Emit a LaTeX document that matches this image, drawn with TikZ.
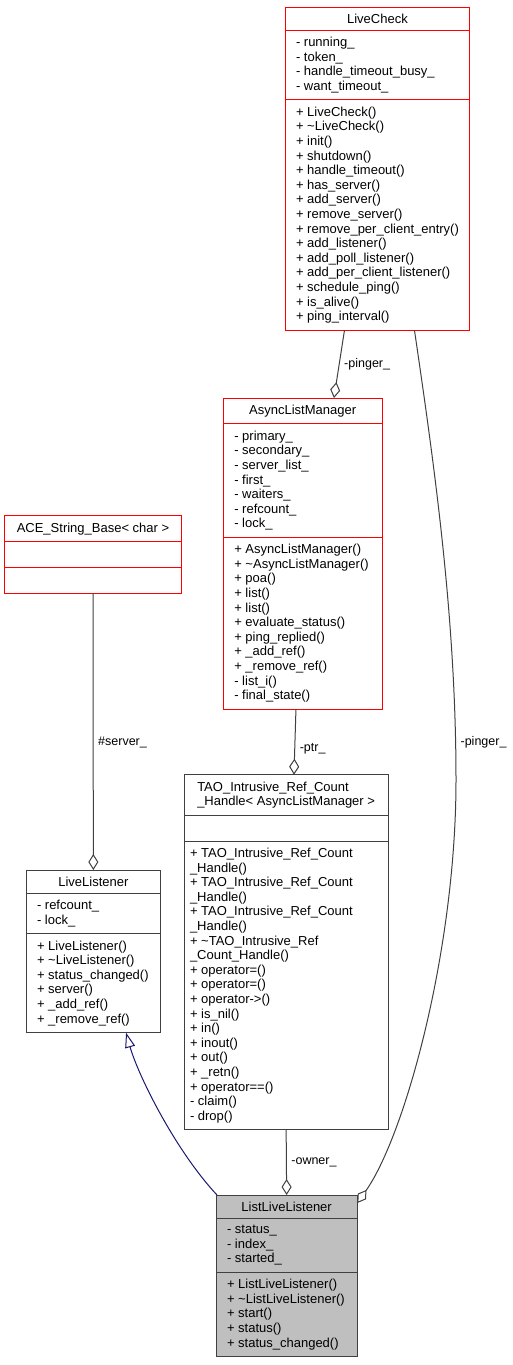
\documentclass[tikz,border=0pt]{standalone}
\usepackage{fontspec}
\setmainfont{Liberation Sans}
\usetikzlibrary{shapes.multipart, arrows.meta, positioning}

\begin{document}
\begin{tikzpicture}[x=1pt, y=-1pt]
    % Colors
    \definecolor{edgegray}{RGB}{64, 64, 64}
    \definecolor{inhblue}{RGB}{25, 25, 112}
    \definecolor{boxgray}{RGB}{191, 191, 191}

    \tikzset{
      classbox/.style={rectangle split, rectangle split parts=3,
        rectangle split part align={center,left,left},
        draw=edgegray, line width=1pt, fill=white, align=left,
        font=\fontsize{13}{14.6}\selectfont,
        inner xsep=11pt, inner ysep=6.4pt, outer sep=0pt, anchor=north west},
      undoc/.style={draw=red},
      assoc/.style={draw=edgegray, line width=1pt, -{Diamond[open, length=16pt, width=10pt]}},
      inherit/.style={draw=inhblue, line width=1pt, -{Triangle[open, length=15pt, width=10pt]}},
      edgelabel/.style={font=\fontsize{12.5}{14}\selectfont, inner sep=4.5pt}
    }

    \useasboundingbox (0,0) rectangle (513,1365);

    % Classes
    \node[classbox, undoc, minimum width=184pt] (livecheck) at (285,7) {LiveCheck
      \nodepart{two} - running\_\\- token\_\\- handle\_timeout\_busy\_\\- want\_timeout\_
      \nodepart{three} + LiveCheck()\\+ \textasciitilde LiveCheck()\\+ init()\\+ shutdown()\\+ handle\_timeout()\\+ has\_server()\\+ add\_server()\\+ remove\_server()\\+ remove\_per\_client\_entry()\\+ add\_listener()\\+ add\_poll\_listener()\\+ add\_per\_client\_listener()\\+ schedule\_ping()\\+ is\_alive()\\+ ping\_interval()};

    \node[classbox, undoc, minimum width=158.7pt] (asynclist) at (223.3,398) {AsyncListManager
      \nodepart{two} - primary\_\\- secondary\_\\- server\_list\_\\- first\_\\- waiters\_\\- refcount\_\\- lock\_
      \nodepart{three} + AsyncListManager()\\+ \textasciitilde AsyncListManager()\\+ poa()\\+ list()\\+ list()\\+ evaluate\_status()\\+ ping\_replied()\\+ \_add\_ref()\\+ \_remove\_ref()\\- list\_i()\\- final\_state()};

    \node[classbox, undoc, minimum width=177.4pt] (stringbase) at (4.3,515.7) {ACE\_String\_Base< char >
      \nodepart{two} \vphantom{(}
      \nodepart{three} \vphantom{(}};

    \node[classbox, minimum width=134.7pt] (livelistener) at (26,870) {LiveListener
      \nodepart{two} - refcount\_\\- lock\_
      \nodepart{three} + LiveListener()\\+ \textasciitilde LiveListener()\\+ status\_changed()\\+ server()\\+ \_add\_ref()\\+ \_remove\_ref()};

    \node[classbox, inner xsep=6pt, minimum width=204.3pt] (refhandle) at (184,774.7) {TAO\_Intrusive\_Ref\_Count\\\_Handle< AsyncListManager >
      \nodepart{two} \vphantom{(}
      \nodepart{three} + TAO\_Intrusive\_Ref\_Count\\\_Handle()\\+ TAO\_Intrusive\_Ref\_Count\\\_Handle()\\+ TAO\_Intrusive\_Ref\_Count\\\_Handle()\\+ \textasciitilde TAO\_Intrusive\_Ref\\\_Count\_Handle()\\+ operator=()\\+ operator=()\\+ operator->()\\+ is\_nil()\\+ in()\\+ inout()\\+ out()\\+ \_retn()\\+ operator==()\\- claim()\\- drop()};

    \node[classbox, fill=boxgray, minimum width=141.3pt] (listlistener) at (216,1195) {ListLiveListener
      \nodepart{two} - status\_\\- index\_\\- started\_
      \nodepart{three} + ListLiveListener()\\+ \textasciitilde ListLiveListener()\\+ start()\\+ status()\\+ status\_changed()};

    % Members
    \draw[assoc] ([xshift=-33pt]livecheck.south) -- node[edgelabel, right] {-pinger\_} ([xshift=31.3pt]asynclist.north);
    \draw[assoc] ([xshift=-6.7pt]asynclist.south) -- node[edgelabel, right, pos=0.6] {-ptr\_} ([xshift=7.8pt]refhandle.north);
    \draw[assoc] (stringbase.south) -- node[edgelabel, right, pos=0.54] {\#server\_} (livelistener.north);
    \draw[assoc] (refhandle.south) -- node[edgelabel, right] {-owner\_} (listlistener.north);
    \draw[assoc] ([xshift=37pt]livecheck.south) .. controls (435,470) and (456,620) .. node[edgelabel, right, pos=0.92] {-pinger\_} (456,780)
      .. controls (456,950) and (405,1135) .. ([yshift=-8pt]listlistener.north east);

    % Base class
    \draw[inherit] ([xshift=1pt]listlistener.north west) .. controls (175,1150) and (138,1075) .. ([xshift=32.7pt]livelistener.south);
\end{tikzpicture}
\end{document}
